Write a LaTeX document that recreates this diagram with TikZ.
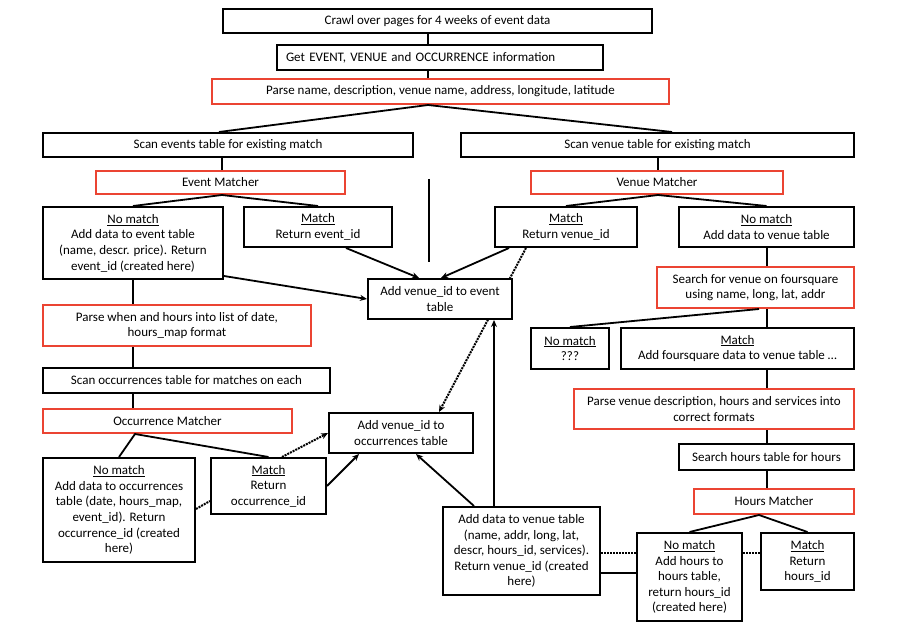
\documentclass[tikz,border=0pt]{standalone}
\usepackage{fontspec}
\setmainfont{Carlito}
\usetikzlibrary{arrows.meta,backgrounds,calc}
\definecolor{myred}{RGB}{235,68,50}
\begin{document}
\begin{tikzpicture}[x=1pt,y=-1pt,
 box/.style={draw=black, line width=2pt, fill=white, inner sep=0pt, align=center, font=\fontsize{13}{15.6}\selectfont},
 rbox/.style={box, draw=myred},
 wh/.style 2 args={minimum width=#1pt, minimum height=#2pt},
 ln/.style={line width=1.8pt},
 arr/.style={ln, -{Stealth[length=7pt,width=6pt]}},
 dotl/.style={line width=2pt, densely dotted},
 darr/.style={dotl, -{Stealth[length=7pt,width=6pt]}}
]
\useasboundingbox (0,0) rectangle (908,639);

\node[box,wh={429}{24}] (crawl) at (437.5,21) {Crawl over pages for 4 weeks of event data};
\node[box,minimum height=25pt, text width=308pt, align=left, inner xsep=9pt] (get) at (440,57.5) {Get EVENT, VENUE and OCCURRENCE information};
\node[rbox,wh={457}{25}] (parse) at (440.5,91.5) {Parse name, description, venue name, address, longitude, latitude};
\node[box,wh={370}{24}] (scanE) at (228,145) {Scan events table for existing match};
\node[box,wh={393}{24}] (scanV) at (657.5,145) {Scan venue table for existing match};
\node[rbox,wh={249}{23}] (em) at (220.5,182.5) {Event Matcher};
\node[rbox,wh={252}{23}] (vm) at (657,182.5) {Venue Matcher};
\node[box,wh={180}{72}] (nme) at (133,243) {\underline{No match}\\Add data to event table\\(name, descr. price). Return\\event\_id (created here)};
\node[box,wh={148}{40}] (me) at (318,227) {\underline{Match}\\Return event\_id};
\node[box,wh={142}{40}] (mv) at (566,227) {\underline{Match}\\Return venue\_id};
\node[box,wh={175}{40}] (nmv) at (766.5,227) {\underline{No match}\\Add data to venue table};
\node[box,wh={144}{40}] (ave) at (440,299) {Add venue\_id to event\\table};
\node[rbox,wh={197}{41}] (sfs) at (755.5,287.5) {Search for venue on foursquare\\using name, long, lat, addr};
\node[rbox,wh={268}{41}] (pw) at (177,325.5) {Parse when and hours into list of date,\\hours\_map format};
\node[box,wh={78}{41}] (nmq) at (570,348.5) {\underline{No match}\\???};
\node[box,wh={233}{41}] (mfs) at (737.5,348.5) {\underline{Match}\\Add foursquare data to venue table \ldots};
\node[box,wh={287}{25}] (so) at (186.5,380.5) {Scan occurrences table for matches on each};
\node[rbox,wh={280}{40}] (pv) at (714,409) {Parse venue description, hours and services into\\correct formats};
\node[rbox,wh={249}{24}] (om) at (167.5,421) {Occurrence Matcher};
\node[box,wh={144}{40}] (avo) at (401,433) {Add venue\_id to\\occurrences table};
\node[box,wh={175}{26}] (sh) at (766.5,457) {Search hours table for hours};
\node[box,wh={152}{104}] (nmo) at (119,510) {\underline{No match}\\Add data to occurrences\\table (date, hours\_map,\\event\_id). Return\\occurrence\_id (created\\here)};
\node[box,wh={115}{56}] (mo) at (268.5,486) {\underline{Match}\\Return\\occurrence\_id};
\node[rbox,wh={160}{25}] (hm) at (774,501.5) {Hours Matcher};
\node[box,wh={157}{88}] (adv) at (521.5,551) {Add data to venue table\\(name, addr, long, lat,\\descr, hours\_id, services).\\Return venue\_id (created\\here)};
\node[box,wh={105}{88}] (nmh) at (689.5,577) {\underline{No match}\\Add hours to\\hours table,\\return hours\_id\\(created here)};
\node[box,wh={93}{57}] (mh) at (807.5,561.5) {\underline{Match}\\Return\\hours\_id};

\coordinate (c1) at (428,0);
\coordinate (c2) at (222,0);
\coordinate (c3) at (658,0);
\coordinate (c4) at (133,0);
\coordinate (c5) at (135,0);
\coordinate (c6) at (767,0);
\coordinate (v1) at (429,179);
\coordinate (v2) at (429,262);

\begin{scope}[on background layer]
\fill[white] (0,0) rectangle (908,639);
\draw[darr] ([xshift=32pt]mv.south west) -- ([xshift=111pt]avo.north west);
\end{scope}

\draw[ln] (crawl.south -| c1) -- (get.north -| c1);
\draw[ln] (get.south -| c1) -- (parse.north -| c1);
\draw[ln] ([xshift=177pt]scanE.north west) -- (parse.south -| c1) -- ([xshift=212pt]scanV.north west);
\draw[ln] (scanE.south -| c2) -- (em.north -| c2);
\draw[ln] (scanV.south -| c3) -- (vm.north -| c3);
\draw[ln] (nme.north) -- (em.south -| c2) -- (me.north);
\draw[ln] (mv.north) -- (vm.south -| c3) -- (nmv.north);
\draw[ln] (v1) -- (v2);
\draw[arr] ([xshift=103pt]me.south west) -- ([xshift=52pt]ave.north west);
\draw[arr] ([yshift=4pt]nme.south east) -- (ave.west);
\draw[arr] ([xshift=15pt]mv.south west) -- ([xshift=74pt]ave.north west);
\draw[arr] ([xshift=52pt]adv.north west) -- ([xshift=127pt]ave.south west);
\draw[arr] ([xshift=32pt]adv.north west) -- ([xshift=88pt]avo.south west);
\draw[arr] ([yshift=29pt]mo.south east) -- ([xshift=31pt]avo.south west);
\draw[darr] ([xshift=72pt]mo.north west) -- (avo.west);
\draw[ln] (nme.south) -- (pw.north -| c4);
\draw[ln] (pw.south -| c4) -- (so.north -| c4);
\draw[ln] (so.south -| c4) -- (om.north -| c4);
\draw[ln] ([xshift=77pt]nmo.north west) -- (om.south -| c5) -- (mo.north);
\draw[dotl] ([yshift=54pt]nmo.south east) -- ([yshift=14pt]mo.south west);
\draw[ln] (nmv.south -| c6) -- (sfs.north -| c6);
\draw[ln] (sfs.south -| c6) -- (mfs.north -| c6);
\draw[ln] (mfs.south -| c6) -- (pv.north -| c6);
\draw[ln] (pv.south -| c6) -- (sh.north -| c6);
\draw[ln] (sh.south -| c6) -- (hm.north -| c6);
\draw[ln] ([xshift=103pt]sfs.south west) -- (nmq.north);
\draw[ln] (nmh.north) -- ([xshift=66pt]hm.south west) -- (mh.north);
\draw[dotl] ([yshift=43pt]adv.south east) -- ([yshift=69pt]nmh.south west);
\draw[ln] ([yshift=23pt]adv.south east) -- ([yshift=49pt]nmh.south west);
\draw[dotl] ([yshift=69pt]nmh.south east) -- ([yshift=38pt]mh.south west);
\end{tikzpicture}
\end{document}
